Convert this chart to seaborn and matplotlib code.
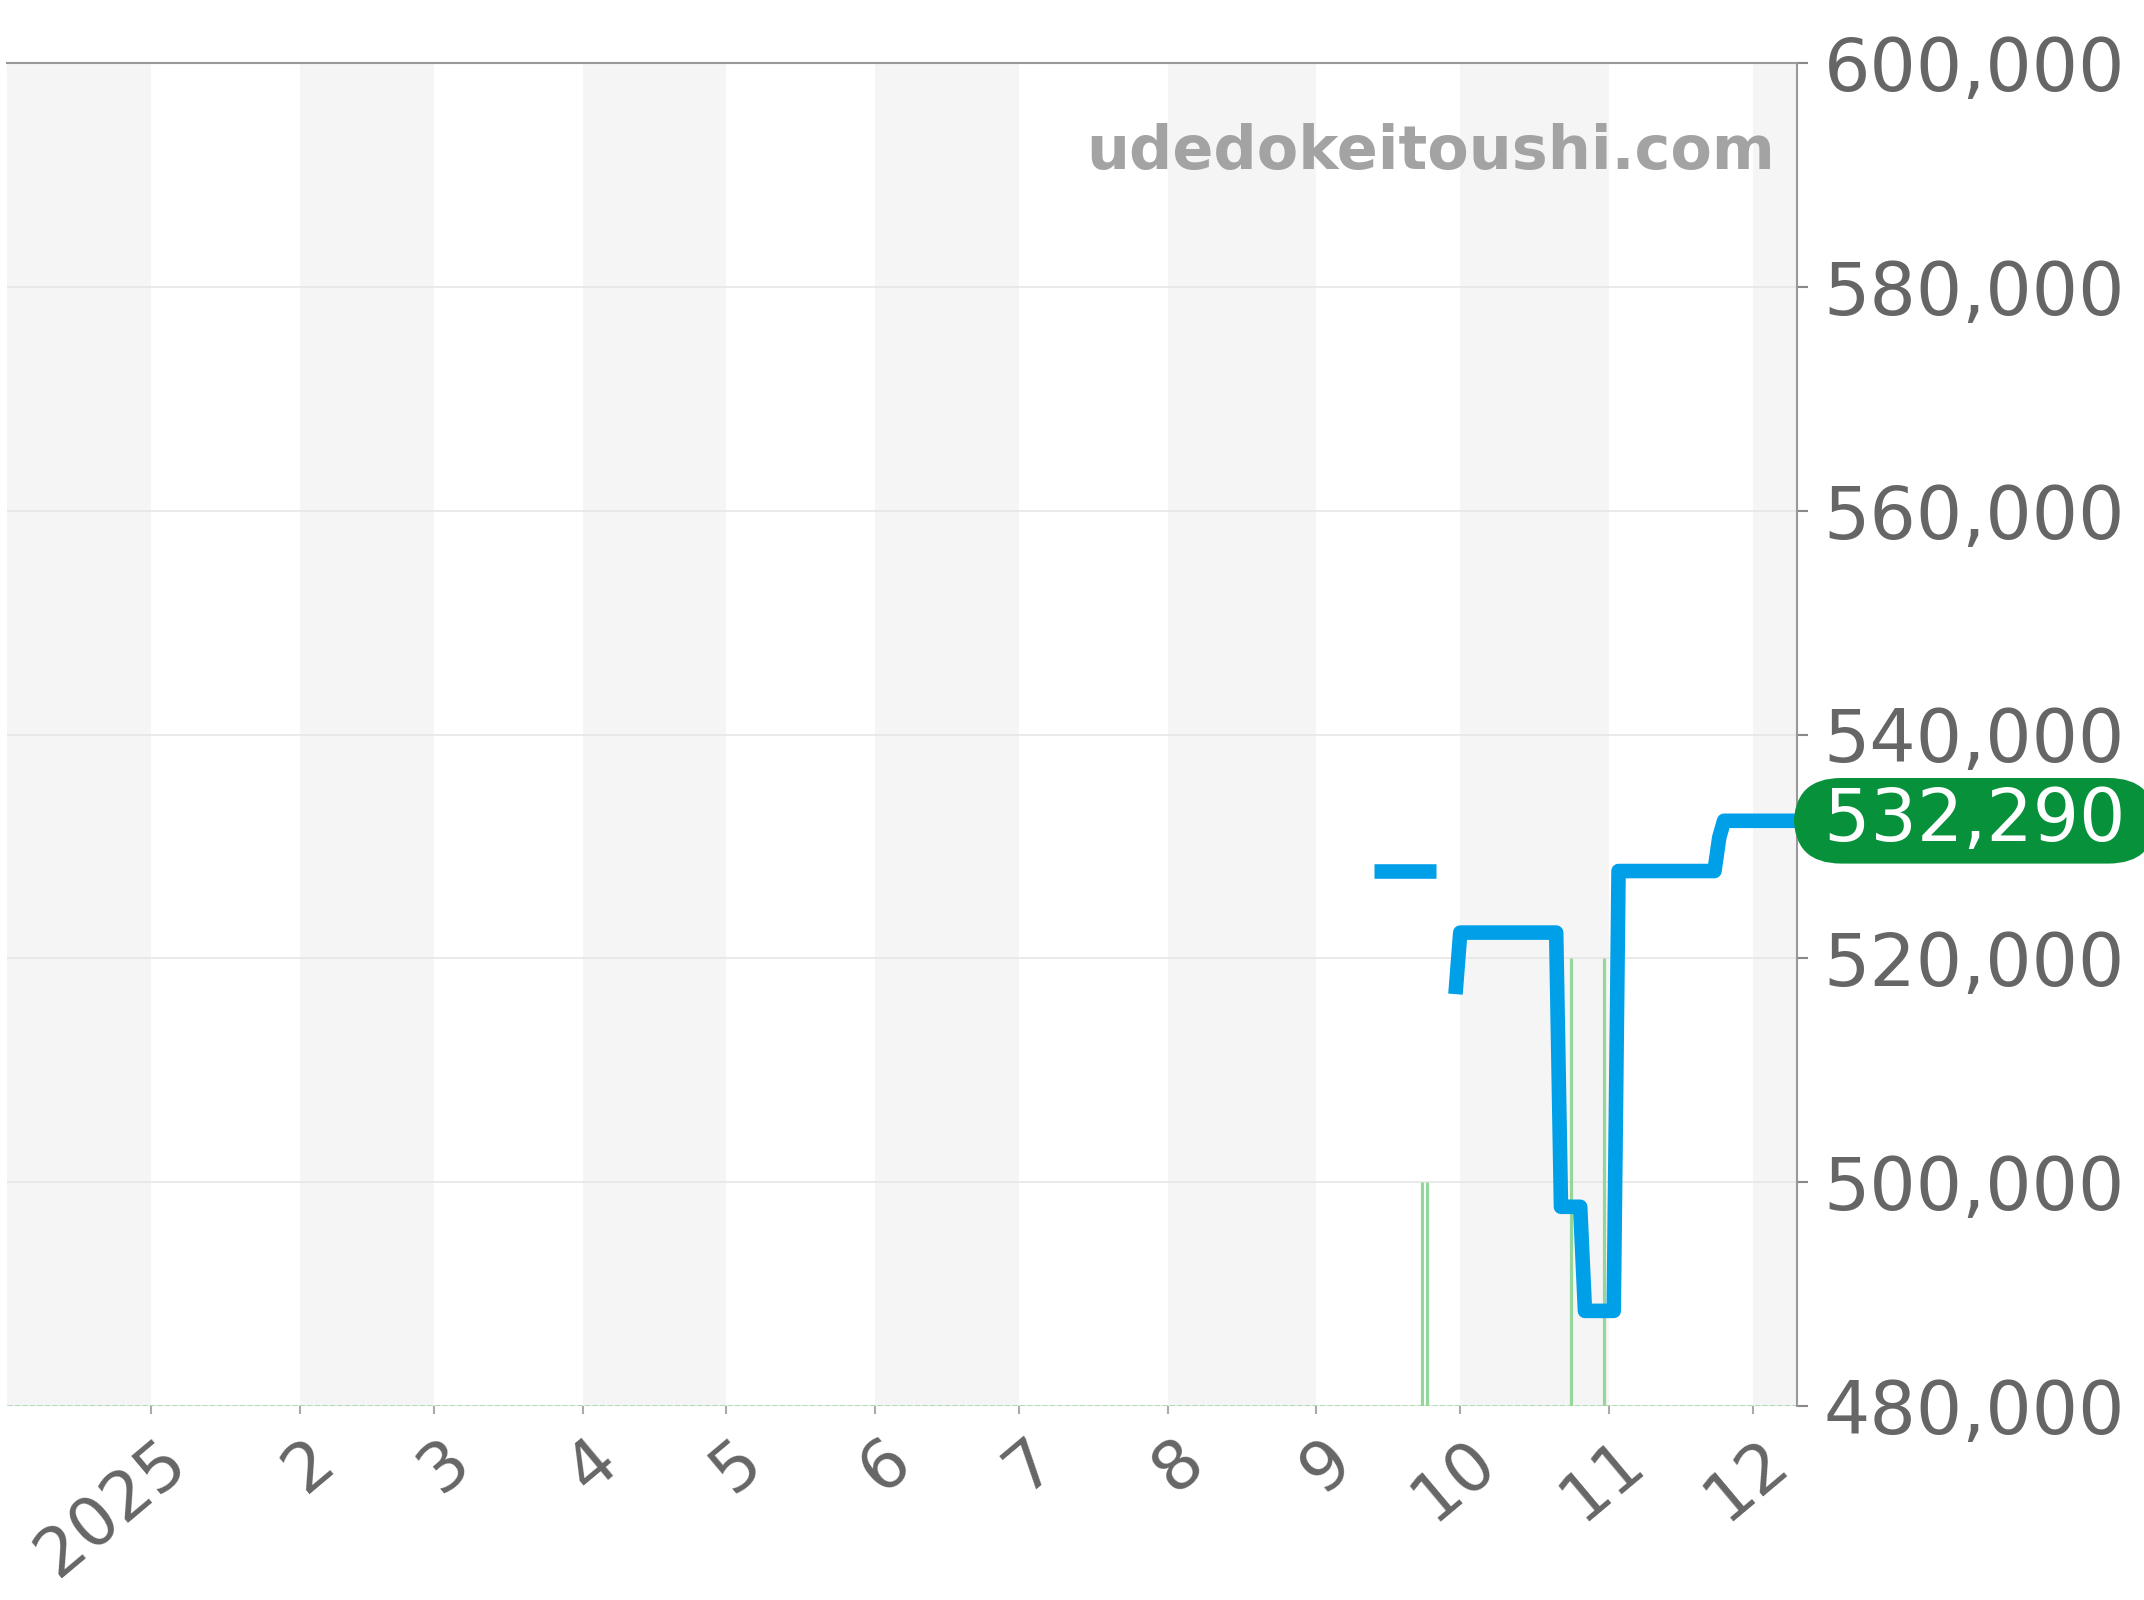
import matplotlib
matplotlib.use("Agg")
import matplotlib.dates as mdates
import matplotlib.pyplot as plt
import matplotlib.ticker as mtick
import matplotlib.transforms as mtrans
import numpy as np
import pandas as pd
import seaborn as sns

# --- data ---
price_dates = [
    "2025-09-13", "2025-09-26",
    "2025-09-30", "2025-10-01", "2025-10-21", "2025-10-22", "2025-10-26",
    "2025-10-27", "2025-11-02", "2025-11-03", "2025-11-23", "2025-11-24",
    "2025-11-25", "2025-12-10",
]
price_values = [
    527800, 527800,
    516800, 522300, 522300, 497800, 497800,
    488500, 488500, 527800, 527800, 530800,
    532290, 532290,
]
price_segment = [0, 0, 1, 1, 1, 1, 1, 1, 1, 1, 1, 1, 1, 1]

spike_dates = ["2025-09-23", "2025-09-24", "2025-10-24", "2025-10-31"]
spike_values = [500000, 500000, 520000, 520000]

month_starts = pd.date_range("2025-01-01", "2025-12-01", freq="MS")
month_labels = ["2025", "2", "3", "4", "5", "6", "7", "8", "9", "10", "11", "12"]
y_ticks = [480000, 500000, 520000, 540000, 560000, 580000, 600000]
last_price = 532290

x_start = pd.Timestamp("2024-12-02")
x_end = pd.Timestamp("2025-12-10 05:00")

df_price = pd.DataFrame(
    {
        "Date": pd.to_datetime(price_dates),
        "Price": price_values,
        "Segment": price_segment,
    }
)

# --- plot ---
sns.set_style("white")
plt.rcParams["font.family"] = ["DejaVu Sans"]

W, H = 2144, 1600
fig = plt.figure(figsize=(W / 100, H / 100), dpi=100)
ax = fig.add_axes([7 / W, 1 - 1406 / H, (1797 - 7) / W, (1406 - 63) / H])

# alternating month bands
band_edges = [x_start] + list(month_starts) + [x_end]
for i in range(len(band_edges) - 1):
    if i % 2 == 0:
        ax.axvspan(band_edges[i], band_edges[i + 1], color="#f5f5f5", lw=0, zorder=0)

ax.set_axisbelow(True)
ax.grid(axis="y", color="#e6e6e6", linewidth=1.2)
ax.grid(axis="x", visible=False)

# green spikes + dashed baseline
ax.vlines(
    pd.to_datetime(spike_dates), y_ticks[0], spike_values,
    color="#95d79a", linewidth=2.3, zorder=2,
)
ax.axhline(y_ticks[0], color="#98d89d", linewidth=1.8, linestyle=(0, (2, 1)), zorder=2)

sns.lineplot(
    data=df_price, x="Date", y="Price", units="Segment", estimator=None,
    color="#00a0e9", linewidth=10.5, ax=ax, zorder=3,
    solid_joinstyle="round", solid_capstyle="butt",
)

ax.set_xlim(x_start, x_end)
ax.set_ylim(y_ticks[0], y_ticks[-1])
ax.set_xlabel("")
ax.set_ylabel("")

# y axis on the right
ax.yaxis.tick_right()
ax.set_yticks(y_ticks)
ax.yaxis.set_major_formatter(mtick.FuncFormatter(lambda v, pos: f"{int(v):,}"))
ax.tick_params(axis="y", right=True, left=False, length=8, width=1.5,
               color="#888888", labelsize=52.5, labelcolor="#666666", pad=11)

ax.set_xticks(month_starts)
ax.set_xticklabels(month_labels)
ax.tick_params(axis="x", bottom=True, length=6, width=1.5, color="#aaaaaa",
               labelsize=49, labelcolor="#666666", pad=9)
shift = mtrans.ScaledTranslation(0.48, 0, fig.dpi_scale_trans)
for lab in ax.get_xticklabels():
    lab.set_rotation(40)
    lab.set_ha("right")
    lab.set_transform(lab.get_transform() + shift)

for side in ["left", "bottom"]:
    ax.spines[side].set_visible(False)
for side in ["top", "right"]:
    ax.spines[side].set_visible(True)
    ax.spines[side].set_color("#999999")
    ax.spines[side].set_linewidth(1.5)

# watermark
ax.text(0.9876, 0.933, "udedokeitoushi.com", transform=ax.transAxes,
        ha="right", va="center", fontsize=43.5, fontweight="bold", color="#a3a3a3")

# last price badge
ax.annotate(
    f" {last_price:,} ", xy=(1.0, last_price), xycoords=("axes fraction", "data"),
    xytext=(4, 0), textcoords="offset pixels", ha="left", va="center",
    fontsize=52.5, color="white", annotation_clip=False,
    bbox=dict(boxstyle="round,pad=0.1,rounding_size=0.65", fc="#07913b", ec="none"),
)

fig.savefig("out.png", dpi=100)
